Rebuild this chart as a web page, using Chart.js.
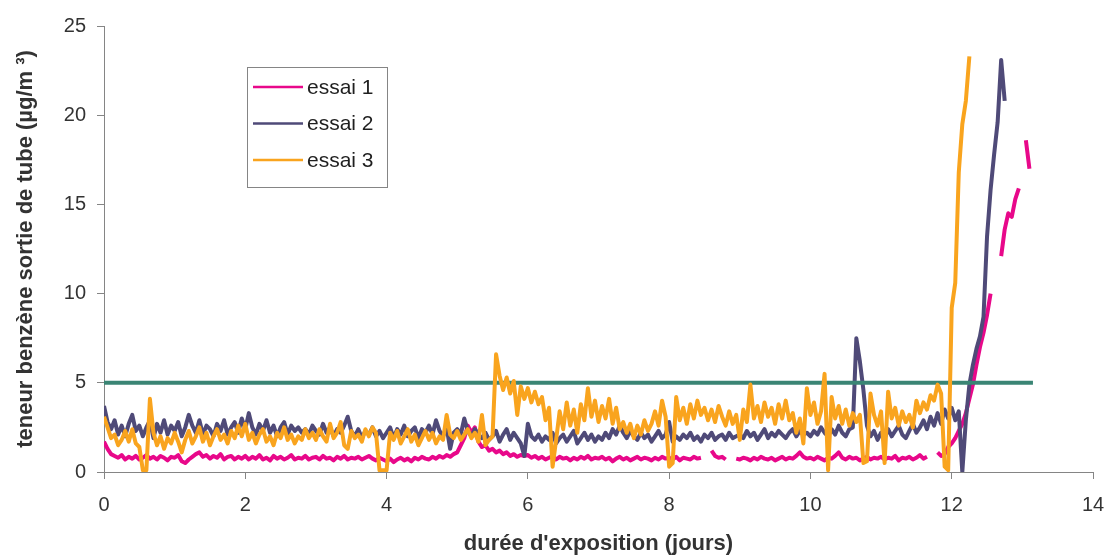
<!DOCTYPE html>
<html lang="fr">
<head>
<meta charset="utf-8">
<title>Teneur en benzène en sortie de tube</title>
<script src="https://cdn.jsdelivr.net/npm/chart.js@4.4.1/dist/chart.umd.min.js"></script>
<style>
  html, body { margin: 0; padding: 0; background: #fff; overflow: hidden; }
  #cadre { width: 1109px; height: 557px; }
  #cadre canvas { display: block; }
</style>
</head>
<body>
<div id="cadre"><canvas id="benzeneChart"></canvas></div>
<script>
// Pas de temps entre deux mesures (jours)
const PAS = 0.05;

// Teneur en benzène (µg/m3), une valeur tous les PAS jours ; null = pas de mesure
const essai1 = [
  1.7, 1.3, 1.0, 0.9, 0.8, 0.95, 0.7, 0.85, 0.75, 0.9, 0.7, 0.8, 0.95, 0.75, 0.85, 0.7, 0.9, 0.8, 0.65, 0.85,
  0.8, 0.95, 0.6, 0.5, 0.7, 0.85, 1.0, 1.1, 0.85, 0.95, 0.75, 0.9, 0.8, 1.0, 0.7, 0.85, 0.9, 0.7, 0.85, 0.75,
  0.9, 0.7, 0.85, 0.75, 0.95, 0.7, 0.8, 0.65, 0.9, 0.75, 0.85, 0.7, 0.8, 0.95, 0.7, 0.8, 0.75, 0.9, 0.7, 0.8,
  0.85, 0.7, 0.9, 0.75, 0.8, 0.65, 0.85, 0.75, 0.9, 0.7, 0.8, 0.75, 0.85, 0.7, 0.8, 0.9, 0.75, 0.65, 0.8, 0.7,
  0.6, 0.75, 0.55, 0.7, 0.8, 0.65, 0.75, 0.6, 0.8, 0.7, 0.85, 0.75, 0.7, 0.85, 0.75, 0.9, 0.8, 0.95, 0.85, 1.0,
  1.1, 1.5, 1.9, 2.6, 2.2, 2.5, 1.7, 1.4, 1.5, 1.2, 1.3, 1.1, 1.2, 1.0, 1.1, 0.9, 1.0, 0.85, 0.95, 0.9,
  0.95, 0.8, 0.9, 0.75, 0.85, 0.7, 0.8, 0.9, 0.7, 0.85, 0.75, 0.8, 0.65, 0.8, 0.7, 0.85, 0.75, 0.9, 0.7, 0.8,
  0.75, 0.85, 0.7, 0.8, 0.6, 0.75, 0.85, 0.7, 0.8, 0.65, 0.75, 0.85, 0.7, 0.8, 0.75, 0.65, 0.8, 0.7, 0.85, 0.75,
  0.8, 0.7, 0.85, 0.65, 0.8, 0.75, 0.7, 0.85, 0.75, 0.8, null, null, 1.2, 0.9, 0.8, 0.85, 0.7, null, null, 0.75,
  0.7, 0.8, 0.75, 0.65, 0.8, 0.7, 0.85, 0.75, 0.7, 0.8, 0.65, 0.75, 0.85, 0.7, 0.8, 0.75, 0.9, 1.1, 0.85, 0.75,
  0.8, 0.7, 0.85, 0.75, 0.65, 0.8, 0.75, 0.9, 1.1, 0.8, 0.7, 0.85, 0.75, 0.8, 0.65, 0.75, 0.85, 0.7, 0.8, 0.75,
  0.85, 0.7, 0.8, 0.75, 0.9, 0.65, 0.8, 0.75, 0.85, 0.7, 0.8, 0.95, 0.75, 0.85, null, null, 1.1, 0.9, 1.0, 1.4,
  1.6, 1.9, 2.3, 2.7, 3.3, 4.1, 4.9, 6.0, 7.0, 7.8, 8.8, 10.0, null, null, 12.1, 13.6, 14.5, 14.3, 15.3, 15.9,
  null, 18.6, 17.0
];

const essai2 = [
  3.7, 2.8, 2.4, 2.9, 2.1, 2.6, 2.0, 2.7, 3.2, 2.3, 2.6, 2.0, 2.5, 2.9, 1.9, 2.7, 2.2, 2.9, 2.1, 2.6,
  2.3, 2.8, 2.0, 2.5, 3.2, 2.6, 2.2, 2.9, 2.1, 2.6, 2.4, 2.0, 2.7, 2.3, 2.9, 2.1, 2.5, 2.8, 2.2, 3.0,
  2.4, 3.3, 2.5, 2.1, 2.7, 2.3, 2.9, 2.2, 2.6, 2.0, 2.5, 2.8, 2.1, 2.6, 2.3, 2.5, 2.2, 2.4, 2.1, 2.6,
  2.3, 2.1, 2.7, 2.2, 2.5, 2.0, 2.4, 2.2, 2.6, 3.1, 2.3, 2.0, 2.4, 1.9, 2.3, 2.1, 2.5, 2.0, 2.3, 1.9,
  2.2, 2.5, 1.9, 2.4, 2.1, 2.6, 2.0, 2.3, 2.5, 1.9, 2.4, 2.2, 2.6, 2.1, 2.9, 2.3, 2.0, 2.5, 1.3, 2.2,
  2.4, 2.1, 3.0, 2.3, 2.0, 2.4, 2.1, 1.9, 2.2, 1.8, 2.0, 2.3, 1.7, 2.1, 2.4, 1.8, 2.2, 1.9, 1.6, 0.9,
  2.7, 2.0, 1.8, 2.1, 1.7, 2.0, 1.8, 2.2, 1.6, 1.9, 2.1, 1.7, 2.0, 2.3, 1.6, 1.9, 2.2, 1.8, 2.1, 1.7,
  2.0, 1.8, 2.2, 1.9, 2.4, 2.1, 2.6, 2.2, 1.9, 2.3, 2.0, 1.8, 2.2, 1.9, 2.1, 1.7, 2.0, 2.3, 1.9, 2.1,
  2.8, 1.7, 2.0, 1.8, 2.1, 1.9, 2.2, 1.8, 2.0, 1.7, 2.1, 1.9, 2.2, 1.8, 2.0, 2.1, 1.8, 2.2, 1.9, 2.0,
  2.1, 1.9, 2.3, 2.0, 2.2, 1.8, 2.1, 2.4, 1.9, 2.2, 2.0, 2.3, 2.1, 1.9, 2.2, 2.4, 2.0, 2.3, 2.1, 2.2,
  2.0, 2.3, 2.1, 2.5, 2.2, 2.0, 2.4, 2.1, 2.6, 2.2, 2.0, 2.4, 2.5, 7.5, 6.2, 4.6, 2.6, 2.0, 2.3, 1.8,
  2.2, 1.9, 2.4, 2.0, 2.3, 2.6, 2.1, 1.9, 2.3, 2.7, 2.2, 2.5, 2.9, 2.4, 3.1, 2.6, 3.3, 2.7, 3.5, 3.0,
  3.6, 2.9, 3.4, 0.0, 2.9, 4.9, 6.0, 6.9, 7.6, 8.7, 13.2, 15.8, 17.8, 19.6, 23.1, 20.8
];

const essai3 = [
  3.1, 2.5, 1.9, 2.1, 1.5, 1.8, 2.3, 1.7, 2.4, 1.6, 1.4, 0.1, 0.1, 4.1, 2.2, 1.5, 2.0, 1.3, 1.9, 1.6,
  2.2, 1.7, 1.1, 1.8, 2.3, 1.6, 2.0, 2.5, 1.7, 2.2, 1.5, 2.0, 2.4, 1.8, 2.1, 1.6, 2.3, 1.9, 2.6, 2.0,
  2.7, 1.8, 2.2, 1.6, 2.1, 2.4, 1.7, 2.0, 1.5, 2.2, 1.9, 2.5, 1.8, 2.1, 1.6, 2.0, 1.8, 2.4, 1.9, 2.2,
  1.8, 2.4, 2.0, 1.7, 2.7, 1.9, 2.2, 2.8, 1.5, 1.3, 2.3, 1.9, 2.1, 1.7, 2.4, 2.0, 2.5, 2.2, 0.1, 0.1,
  0.1, 2.2, 1.8, 2.3, 1.6, 2.0, 2.4, 1.7, 2.1, 1.5, 1.9, 2.3, 1.8, 2.2, 1.6, 2.0, 1.8, 3.2, 2.1, 1.9,
  2.3, 1.8, 2.1, 2.4, 1.9, 2.2, 1.7, 3.2, 1.5, 1.8, 2.0, 6.6, 5.4, 4.6, 5.3, 4.4, 5.1, 3.2, 4.8, 4.1,
  4.7, 3.9, 4.5, 3.8, 4.2, 2.9, 3.6, 0.3, 1.8, 3.4, 2.4, 3.9, 2.6, 3.5, 2.2, 3.8, 2.9, 4.7, 3.1, 4.0,
  2.8, 3.7, 3.0, 4.1, 2.7, 3.6, 2.4, 2.8, 2.2, 2.7, 1.9, 2.6, 2.1, 2.9, 2.3, 2.7, 3.4, 2.6, 4.0, 3.1,
  0.3, 0.5, 4.2, 2.9, 3.6, 2.7, 3.8, 3.0, 4.0, 3.2, 3.6, 2.9, 3.5, 2.8, 3.7, 3.1, 2.6, 3.4, 2.7, 3.2,
  1.8, 3.5, 2.8, 4.9, 3.0, 3.7, 2.8, 3.9, 3.1, 3.6, 2.7, 3.8, 3.0, 4.0, 2.9, 3.3, 2.2, 3.0, 1.6, 4.7,
  3.2, 3.9, 2.7, 3.4, 5.5, 0.1, 4.2, 3.0, 3.7, 2.7, 3.5, 2.6, 3.3, 2.8, 3.2, 0.5, 0.6, 4.4, 3.2, 2.6,
  3.4, 0.5, 4.5, 3.0, 3.6, 2.6, 3.4, 2.8, 3.2, 2.5, 4.0, 3.3, 3.9, 3.5, 4.3, 4.0, 4.9, 4.4, 0.3, 0.1,
  9.2, 10.6, 16.8, 19.5, 20.8, 23.3
];

// Seuil de 5 µg/m3
const seuilX = [0, 13.15];
const seuilY = [5, 5];

// Graduations des axes
const ticksX = [0, 2, 4, 6, 8, 10, 12, 14];
const ticksY = [0, 5, 10, 15, 20, 25];

const series = ['essai 1', 'essai 2', 'essai 3'];

const couleurs = {
    essai1: '#e8088a',
    essai2: '#4f4a78',
    essai3: '#f9a41e',
    seuil: '#3a8574',
    axe: '#858585',
    texte: '#333333'
};

const POLICE = '"Liberation Sans", Arial, sans-serif';

// Convertit une liste de mesures en points {x: jours, y: teneur}
function enPoints(valeurs) {
    return valeurs.map((v, i) => ({ x: Math.round(i * PAS * 100) / 100, y: v }));
}

// Légende encadrée placée dans la zone du graphique
const legendeEncadree = {
    id: 'legendeEncadree',
    afterDraw(chart) {
        const ctx = chart.ctx;
        const x0 = 247, y0 = 67, larg = 140, haut = 120;
        ctx.save();
        ctx.fillStyle = '#ffffff';
        ctx.fillRect(x0, y0, larg, haut);
        ctx.strokeStyle = couleurs.axe;
        ctx.lineWidth = 1;
        ctx.strokeRect(x0 + 0.5, y0 + 0.5, larg, haut);

        const jeux = chart.data.datasets.filter(ds => series.includes(ds.label));
        jeux.forEach((ds, i) => {
            const y = 87 + i * 36.5;
            ctx.strokeStyle = ds.borderColor;
            ctx.lineWidth = 2.5;
            ctx.beginPath();
            ctx.moveTo(253, y);
            ctx.lineTo(303, y);
            ctx.stroke();
            ctx.fillStyle = '#1f1f1f';
            ctx.font = '21px ' + POLICE;
            ctx.textBaseline = 'middle';
            ctx.fillText(ds.label, 307, y + 1);
        });
        ctx.restore();
    }
};

function serie(label, valeurs, couleur, ordre) {
    return {
        label: label,
        data: enPoints(valeurs),
        borderColor: couleur,
        backgroundColor: couleur,
        borderWidth: 4,
        borderJoinStyle: 'round',
        pointRadius: 0,
        tension: 0,
        spanGaps: false,
        order: ordre
    };
}

const ctx = document.getElementById('benzeneChart').getContext('2d');
const benzeneChart = new Chart(ctx, {
    type: 'line',
    data: {
        datasets: [
            serie(series[0], essai1, couleurs.essai1, 3),
            serie(series[1], essai2, couleurs.essai2, 2),
            {
                label: 'seuil',
                data: seuilX.map((x, i) => ({ x: x, y: seuilY[i] })),
                borderColor: couleurs.seuil,
                borderWidth: 4,
                pointRadius: 0,
                order: 1
            },
            serie(series[2], essai3, couleurs.essai3, 0)
        ]
    },
    options: {
        responsive: true,
        maintainAspectRatio: false,
        animation: false,
        layout: {
            padding: { top: 26, right: 16, bottom: 0, left: 0 }
        },
        plugins: {
            legend: { display: false },
            tooltip: { enabled: false }
        },
        scales: {
            x: {
                type: 'linear',
                min: 0,
                max: 14,
                afterBuildTicks: axis => { axis.ticks = ticksX.map(v => ({ value: v })); },
                afterFit: axis => {
                    axis.height = 85;
                    // pas de marge supplémentaire pour les étiquettes extrêmes
                    axis.paddingLeft = 0;
                    axis.paddingRight = 0;
                },
                border: { color: couleurs.axe, width: 1 },
                grid: { drawOnChartArea: false, drawTicks: true, tickLength: 7, color: couleurs.axe },
                ticks: {
                    color: couleurs.texte,
                    padding: 14,
                    font: { family: POLICE, size: 20 },
                    maxRotation: 0
                },
                title: {
                    display: true,
                    text: "durée d'exposition (jours)",
                    color: couleurs.texte,
                    font: { family: POLICE, size: 22, weight: 'bold' },
                    padding: { top: 0, bottom: 0 }
                }
            },
            y: {
                min: 0,
                max: 25,
                afterBuildTicks: axis => { axis.ticks = ticksY.map(v => ({ value: v })); },
                afterFit: axis => { axis.width = 104; },
                border: { color: couleurs.axe, width: 1 },
                grid: { drawOnChartArea: false, drawTicks: true, tickLength: 7, color: couleurs.axe },
                ticks: {
                    color: couleurs.texte,
                    padding: 11,
                    font: { family: POLICE, size: 20 }
                },
                title: {
                    display: true,
                    text: 'teneur benzène sortie de tube (µg/m ³)',
                    color: couleurs.texte,
                    font: { family: POLICE, size: 22, weight: 'bold' },
                    padding: { top: 13, bottom: 0 }
                }
            }
        }
    },
    plugins: [legendeEncadree]
});
</script>
</body>
</html>
